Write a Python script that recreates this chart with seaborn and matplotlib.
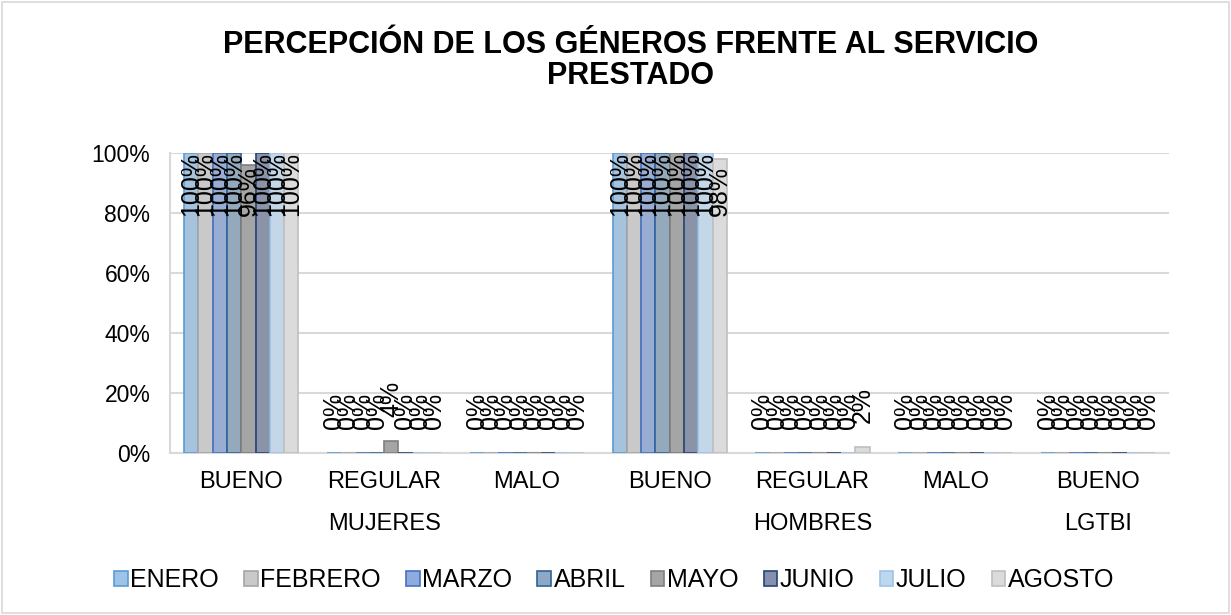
import pandas as pd
import matplotlib.pyplot as plt
import seaborn as sns
from matplotlib.patches import Rectangle

# Data (percent)
grupos = ["MUJERES", "MUJERES", "MUJERES", "HOMBRES", "HOMBRES", "HOMBRES", "LGTBI"]
categorias = ["BUENO", "REGULAR", "MALO", "BUENO", "REGULAR", "MALO", "BUENO"]
meses = ["ENERO", "FEBRERO", "MARZO", "ABRIL", "MAYO", "JUNIO", "JULIO", "AGOSTO"]

enero = [100, 0, 0, 100, 0, 0, 0]
febrero = [100, 0, 0, 100, 0, 0, 0]
marzo = [100, 0, 0, 100, 0, 0, 0]
abril = [100, 0, 0, 100, 0, 0, 0]
mayo = [96, 4, 0, 100, 0, 0, 0]
junio = [100, 0, 0, 100, 0, 0, 0]
julio = [100, 0, 0, 100, 0, 0, 0]
agosto = [100, 0, 0, 98, 2, 0, 0]
valores = [enero, febrero, marzo, abril, mayo, junio, julio, agosto]

colores = ["#9DC3E6", "#C9C9C9", "#8FAADC", "#8EA9C4", "#A5A5A5", "#8690AE", "#BDD7EE", "#DBDBDB"]
bordes = ["#5B9BD5", "#A5A5A5", "#4472C4", "#2E6496", "#7F7F7F", "#264478", "#9DC3E6", "#BFBFBF"]

claves = [f"{g}|{c}|{i}" for i, (g, c) in enumerate(zip(grupos, categorias))]
filas = []
for mes, vals in zip(meses, valores):
    for k, v in zip(claves, vals):
        filas.append({"clave": k, "mes": mes, "valor": v})
df = pd.DataFrame(filas)

sns.set_style("white")
plt.rcParams["font.family"] = ["Liberation Sans", "DejaVu Sans"]
plt.rcParams["text.color"] = "black"
plt.rcParams["xtick.color"] = "black"
plt.rcParams["ytick.color"] = "black"

fig = plt.figure(figsize=(12.31, 6.15), dpi=100)
ax = fig.add_axes([0.138, 0.263, 0.812, 0.488])

sns.barplot(data=df, x="clave", y="valor", hue="mes", order=claves, hue_order=meses,
            palette=colores, width=0.8, ax=ax, legend=False)

for cont, borde in zip(ax.containers, bordes):
    for bar in cont:
        bar.set_edgecolor(borde)
        bar.set_linewidth(1.2)
        bar.set_zorder(3)
        h = bar.get_height()
        y = min(h + 8, 79)
        ax.text(bar.get_x() + bar.get_width() / 2, y, f"{h:.0f}%", rotation=90,
                ha="center", va="bottom", fontsize=18, color="black", zorder=4)

ax.set_ylim(0, 100)
ax.set_yticks(range(0, 101, 20))
ax.set_yticklabels([f"{t}%" for t in range(0, 101, 20)], fontsize=16.5)
ax.yaxis.grid(True, color="#D9D9D9", linewidth=1.5)
ax.set_axisbelow(True)
ax.set_xlim(-0.5, len(claves) - 0.5)
ax.set_xticks(range(len(claves)))
ax.set_xticklabels(categorias, fontsize=17)
ax.tick_params(axis="y", length=0, pad=14, labelcolor="black")
ax.tick_params(axis="x", length=0, pad=13, labelcolor="black")
ax.set_xlabel("")
ax.set_ylabel("")
for s in ["top", "right"]:
    ax.spines[s].set_visible(False)
for s in ["left", "bottom"]:
    ax.spines[s].set_color("#D9D9D9")
    ax.spines[s].set_linewidth(1.5)
    ax.spines[s].set_zorder(1)

# group labels under the categories
posiciones = {}
for i, g in enumerate(grupos):
    posiciones.setdefault(g, []).append(i)
for g, idx in posiciones.items():
    ax.text(sum(idx) / len(idx), -0.235, g, transform=ax.get_xaxis_transform(),
            ha="center", va="center", fontsize=17, color="black")

fig.suptitle("PERCEPCIÓN DE LOS GÉNEROS FRENTE AL SERVICIO\nPRESTADO",
             x=0.512, y=0.952, fontsize=22, fontweight="bold", linespacing=1.05,
             color="black")

handles = [Rectangle((0, 0), 1, 1, facecolor=c, edgecolor=b, linewidth=1.2)
           for c, b in zip(colores, bordes)]
fig.legend(handles, meses, loc="center", bbox_to_anchor=(0.499, 0.057), ncol=8,
           frameon=False, fontsize=18, handlelength=0.55, handleheight=0.55,
           handletextpad=0.1, columnspacing=1.0, labelcolor="black")

fig.patches.append(Rectangle((0.002, 0.003), 0.996, 0.994, transform=fig.transFigure,
                             fill=False, edgecolor="#D9D9D9", linewidth=1.2))

plt.savefig("out.png", dpi=100)
